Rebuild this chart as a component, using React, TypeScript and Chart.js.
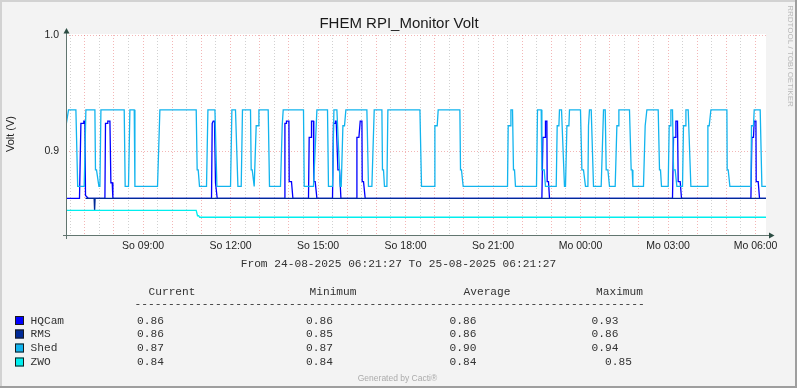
import { useEffect, useRef } from 'react';
import { Chart, registerables } from 'chart.js';

Chart.register(...registerables);

// ---- data (time = minutes since 24-08-2025 00:00) ----
const startMin = 381.45; // 06:21:27
const endMin = 1821.45; // next day 06:21:27

const seriesNames = ['HQCam', 'RMS', 'Shed', 'ZWO'];
const seriesColors = ['#0000FF', '#002A97', '#12B4EE', '#00EEEE'];

const hqcamT = [
  381.5, 409.2, 412.1, 417.5, 418.1, 420.3, 421.6, 427.1,
  461.5, 462.7, 466.8, 467.4, 471.8, 473.8, 476.5, 477.9,
  680.8, 682.2, 683.6, 684.3, 686.9, 689.0, 692.5,
  830.9, 831.8, 834.4, 835.0, 840.0, 840.6, 845.3, 848.2,
  880.3, 881.7, 885.9, 886.5, 890.6, 891.2, 894.1, 897.6,
  929.7, 931.7, 935.2, 935.8, 937.3, 940.8, 944.1, 947.0,
  978.4, 979.9, 984.0, 986.7, 990.2, 990.8, 993.5, 996.9,
  1360.4, 1362.5, 1367.2, 1367.8, 1370.7, 1371.3, 1374.0, 1376.1,
  1629.1, 1631.2, 1634.6, 1636.1, 1639.4, 1640.8, 1644.9, 1647.6,
  1790.4, 1792.4, 1795.7, 1797.2, 1800.7, 1801.3, 1805.4, 1808.1,
  1821.4,
];
const hqcamV = [
  0.8596, 0.8596, 0.924, 0.924, 0.926, 0.926, 0.862, 0.8596,
  0.8596, 0.924, 0.924, 0.926, 0.926, 0.873, 0.873, 0.8596,
  0.8596, 0.924, 0.924, 0.926, 0.926, 0.873, 0.8596,
  0.8596, 0.924, 0.924, 0.926, 0.926, 0.874, 0.874, 0.8596,
  0.8596, 0.912, 0.912, 0.926, 0.926, 0.874, 0.874, 0.8596,
  0.8596, 0.924, 0.924, 0.926, 0.926, 0.884, 0.884, 0.8596,
  0.8596, 0.912, 0.912, 0.926, 0.926, 0.874, 0.874, 0.8596,
  0.8596, 0.912, 0.912, 0.926, 0.926, 0.874, 0.874, 0.8596,
  0.8596, 0.912, 0.912, 0.926, 0.926, 0.874, 0.874, 0.8596,
  0.8596, 0.912, 0.912, 0.926, 0.926, 0.874, 0.874, 0.8596,
  0.8596,
];

const rmsT = [421.6, 439.3, 440.3, 441.3, 1821.4];
const rmsV = [0.8596, 0.8596, 0.849, 0.8596, 0.8596];

const shedT = [
  381.5, 386.6, 401.8, 405.5, 418.9, 422.4, 440.9, 442.1, 444.2, 449.1,
  451.2, 453.3, 501.2, 503.2, 510.0, 512.9, 521.8, 523.2, 569.7, 574.6,
  649.3, 651.3, 653.4, 656.1, 670.5, 673.4, 687.8, 691.9, 719.9, 722.7,
  730.1, 735.1, 741.9, 744.5, 761.0, 762.4, 764.5, 768.6, 772.7, 776.8,
  778.3, 797.4, 800.1, 822.7, 826.2, 828.3, 870.0, 871.5, 890.6, 897.6,
  919.4, 921.4, 929.7, 932.6, 938.7, 945.5, 947.6, 951.1, 954.4, 957.2,
  1000.4, 1003.7, 1010.7, 1015.5, 1031.3, 1032.5, 1034.6, 1036.6, 1041.6, 1043.6,
  1109.5, 1112.8, 1138.9, 1140.3, 1145.1, 1147.1, 1191.7, 1193.0, 1195.0, 1198.5,
  1289.7, 1291.1, 1295.2, 1296.7, 1300.0, 1302.0, 1304.1, 1306.1, 1349.3, 1351.4,
  1359.0, 1360.4, 1365.2, 1367.8, 1389.9, 1391.9, 1395.4, 1396.6, 1400.8, 1406.9,
  1409.0, 1411.9, 1416.0, 1417.2, 1439.8, 1442.7, 1446.0, 1450.1, 1455.1, 1456.3,
  1458.3, 1461.9, 1466.6, 1482.4, 1487.2, 1490.7, 1492.7, 1496.2, 1499.5, 1511.2,
  1514.7, 1517.4, 1518.8, 1540.6, 1544.1, 1546.2, 1547.6, 1569.4, 1572.9, 1576.4,
  1599.7, 1602.4, 1604.4, 1606.5, 1620.2, 1622.3, 1624.4, 1625.8, 1629.1, 1631.2,
  1634.6, 1638.1, 1649.7, 1651.7, 1655.2, 1656.7, 1661.4, 1666.9, 1701.1, 1701.9,
  1704.6, 1708.1, 1741.0, 1741.6, 1743.7, 1747.2, 1790.4, 1791.6, 1795.7, 1797.2,
  1809.5, 1813.0, 1821.4,
];
const shedV = [
  0.922, 0.9357, 0.9357, 0.8698, 0.8698, 0.9357, 0.9357, 0.884, 0.884, 0.8698,
  0.8698, 0.9357, 0.9357, 0.8698, 0.8698, 0.9357, 0.9357, 0.8698, 0.8698, 0.9357,
  0.9357, 0.884, 0.884, 0.8698, 0.8698, 0.9357, 0.9357, 0.8698, 0.8698, 0.9357,
  0.9357, 0.8698, 0.8698, 0.9357, 0.9357, 0.884, 0.884, 0.8698, 0.922, 0.922,
  0.9357, 0.9357, 0.8698, 0.8698, 0.922, 0.9357, 0.9357, 0.8698, 0.8698, 0.9357,
  0.9357, 0.8698, 0.8698, 0.9357, 0.9357, 0.8698, 0.8698, 0.922, 0.922, 0.9357,
  0.9357, 0.8698, 0.8698, 0.9357, 0.9357, 0.884, 0.884, 0.8698, 0.8698, 0.9357,
  0.9357, 0.8698, 0.8698, 0.922, 0.922, 0.9357, 0.9357, 0.884, 0.884, 0.8698,
  0.8698, 0.922, 0.922, 0.9357, 0.9357, 0.884, 0.884, 0.8698, 0.8698, 0.9357,
  0.9357, 0.884, 0.884, 0.8698, 0.8698, 0.922, 0.922, 0.9357, 0.9357, 0.8698,
  0.8698, 0.922, 0.922, 0.9357, 0.9357, 0.884, 0.884, 0.8698, 0.8698, 0.922,
  0.9357, 0.9357, 0.8698, 0.8698, 0.9357, 0.9357, 0.884, 0.884, 0.8698, 0.8698,
  0.922, 0.922, 0.9357, 0.9357, 0.884, 0.884, 0.8698, 0.8698, 0.922, 0.9357,
  0.9357, 0.884, 0.884, 0.8698, 0.8698, 0.922, 0.922, 0.9357, 0.9357, 0.884,
  0.884, 0.8698, 0.8698, 0.922, 0.922, 0.9357, 0.9357, 0.8698, 0.8698, 0.922,
  0.922, 0.9357, 0.9357, 0.884, 0.884, 0.8698, 0.8698, 0.922, 0.922, 0.9357,
  0.9357, 0.8698, 0.8698,
];

const zwoT = [381.5, 649.3, 652.0, 654.4, 656.5, 1821.4];
const zwoV = [0.8493, 0.8493, 0.8446, 0.8446, 0.8433, 0.8433];

const xTickMinutes = [540, 720, 900, 1080, 1260, 1440, 1620, 1800];
const xTickLabels = ['So 09:00', 'So 12:00', 'So 15:00', 'So 18:00', 'So 21:00', 'Mo 00:00', 'Mo 03:00', 'Mo 06:00'];
const yTickValues = [0.9, 1.0];
const yTickLabels = ['0.9', '1.0'];
const yMin = 0.8272;
const yMax = 1.0;

const legendHeaders = ['Current', 'Minimum', 'Average', 'Maximum'];
const legendCurrent = ['0.86', '0.86', '0.87', '0.84'];
const legendMinimum = ['0.86', '0.85', '0.87', '0.84'];
const legendAverage = ['0.86', '0.86', '0.90', '0.84'];
const legendMaximum = ['0.93', '0.86', '0.94', '0.85'];

const titleText = 'FHEM RPI_Monitor Volt';
const yAxisTitle = 'Volt (V)';
const rangeText = 'From 24-08-2025 06:21:27 To 25-08-2025 06:21:27';
const footerText = 'Generated by Cacti\u00AE';
const watermarkText = 'RRDTOOL / TOBI OETIKER';

// ---- styling ----
const W = 797;
const H = 388;
const SANS = 'Liberation Sans, Arial, sans-serif';
const MONO = 'Liberation Mono, Courier New, monospace';
const MAJOR = 'rgba(226,80,80,0.42)';
const MINOR = 'rgba(140,140,140,0.4)';

const gridMinutes: number[] = [];
for (let m = 390; m <= endMin; m += 30) gridMinutes.push(m);

const toXY = (t: number[], v: number[]) => t.map((x, i) => ({ x, y: v[i] }));

const decorPlugin = {
  id: 'rrdDecor',
  beforeDraw(chart: any) {
    const { ctx, chartArea: a } = chart;
    ctx.save();
    ctx.fillStyle = '#F3F3F3';
    ctx.fillRect(0, 0, W, H);
    ctx.fillStyle = '#D2D2D2';
    ctx.fillRect(0, 0, W, 2);
    ctx.fillRect(0, 0, 2, H);
    ctx.fillStyle = '#9E9E9E';
    ctx.fillRect(0, H - 2, W, 2);
    ctx.fillRect(W - 2, 0, 2, H);
    ctx.fillStyle = '#FFFFFF';
    ctx.fillRect(a.left, a.top - 1, a.right - a.left, a.bottom - a.top + 1);
    ctx.restore();
  },
  afterDraw(chart: any) {
    const { ctx, chartArea: a } = chart;
    ctx.save();
    // axes
    ctx.fillStyle = '#61756F';
    ctx.fillRect(a.left, a.top - 3, 1, a.bottom - a.top + 6);
    ctx.fillRect(a.left - 3, a.bottom - 1, a.right - a.left + 6, 1);
    ctx.fillStyle = '#2C4D43';
    ctx.beginPath();
    ctx.moveTo(a.left + 0.5, a.top - 7);
    ctx.lineTo(a.left - 2.5, a.top - 1.5);
    ctx.lineTo(a.left + 3.5, a.top - 1.5);
    ctx.closePath();
    ctx.fill();
    ctx.beginPath();
    ctx.moveTo(a.right + 8.5, a.bottom - 0.5);
    ctx.lineTo(a.right + 3, a.bottom - 3.5);
    ctx.lineTo(a.right + 3, a.bottom + 2.5);
    ctx.closePath();
    ctx.fill();

    // title
    ctx.fillStyle = '#1A1A1A';
    ctx.font = `15px ${SANS}`;
    ctx.textAlign = 'center';
    ctx.textBaseline = 'alphabetic';
    ctx.fillText(titleText, 399, 27.5);

    // y axis title
    ctx.fillStyle = '#222';
    ctx.font = `11px ${SANS}`;
    ctx.textAlign = 'center';
    ctx.textBaseline = 'middle';
    ctx.save();
    ctx.translate(10.5, 134);
    ctx.rotate(-Math.PI / 2);
    ctx.fillText(yAxisTitle, 0, 0);
    ctx.restore();

    // watermark
    ctx.save();
    ctx.fillStyle = '#B8B8B8';
    ctx.font = `8px ${SANS}`;
    ctx.translate(790, 56);
    ctx.rotate(Math.PI / 2);
    ctx.fillText(watermarkText, 0, 0);
    ctx.restore();

    // range line
    ctx.fillStyle = '#333';
    ctx.font = `11.2px ${MONO}`;
    ctx.textBaseline = 'alphabetic';
    ctx.textAlign = 'center';
    ctx.fillText(rangeText, 398.5, 266.5);

    // legend table
    ctx.textAlign = 'left';
    const headX = [148.5, 309.5, 463.5, 596];
    legendHeaders.forEach((h, i) => ctx.fillText(h, headX[i], 295));
    ctx.fillText('-'.repeat(76), 134.5, 306.5);
    const rowY = [323.5, 337, 351, 365];
    const colX = [137, 306, 449.5, 591.5];
    const cols = [legendCurrent, legendMinimum, legendAverage, legendMaximum];
    seriesNames.forEach((name, r) => {
      const y = rowY[r];
      ctx.fillStyle = seriesColors[r];
      ctx.fillRect(15, y - 7.5, 9, 9);
      ctx.strokeStyle = '#1A1A1A';
      ctx.lineWidth = 1;
      ctx.strokeRect(15.5, y - 7, 8, 8);
      ctx.fillStyle = '#333';
      ctx.fillText(name, 30.5, y);
      cols.forEach((col, c) => {
        const x = c === 3 && r === 3 ? 605 : colX[c];
        ctx.fillText(col[r], x, y);
      });
    });

    // footer
    ctx.fillStyle = '#ABABAB';
    ctx.font = `8.5px ${SANS}`;
    ctx.textAlign = 'center';
    ctx.fillText(footerText, 397.5, 381);
    ctx.restore();
  },
};

export default function App() {
  const ref = useRef<HTMLCanvasElement | null>(null);
  useEffect(() => {
    document.body.style.margin = '0';
    const canvas = ref.current;
    if (!canvas) return;
    const mk = (i: number, t: number[], v: number[]) => ({
      label: seriesNames[i],
      data: toXY(t, v),
      borderColor: seriesColors[i],
      backgroundColor: seriesColors[i],
      borderWidth: 1.3,
      pointRadius: 0,
      fill: false,
      tension: 0,
      order: 4 - i,
    });
    const chart = new Chart(canvas, {
      type: 'line',
      data: {
        datasets: [
          mk(0, hqcamT, hqcamV),
          mk(1, rmsT, rmsV),
          mk(2, shedT, shedV),
          mk(3, zwoT, zwoV),
        ] as any,
      },
      options: {
        animation: false,
        responsive: false,
        maintainAspectRatio: false,
        devicePixelRatio: 1,
        layout: { padding: { left: 0, right: 31, top: 35, bottom: 122 } },
        plugins: {
          legend: { display: false },
          tooltip: { enabled: false },
          title: { display: false },
        },
        scales: {
          x: {
            type: 'linear',
            min: startMin,
            max: endMin,
            afterBuildTicks: (s: any) => {
              s.ticks = gridMinutes.map((v) => ({ value: v }));
            },
            afterFit: (s: any) => {
              s.height = 30;
            },
            ticks: {
              autoSkip: false,
              maxRotation: 0,
              minRotation: 0,
              padding: 3.5,
              color: '#1E1E1E',
              font: { family: SANS, size: 10.5 },
              callback: (value: any) => {
                const i = xTickMinutes.indexOf(Number(value));
                return i >= 0 ? xTickLabels[i] : '';
              },
            },
            grid: {
              drawTicks: false,
              lineWidth: 1,
              color: (c: any) => (c.tick && c.tick.value % 60 === 0 ? MAJOR : MINOR),
            },
            border: { display: false, dash: [1, 2] },
          },
          y: {
            type: 'linear',
            min: yMin,
            max: yMax,
            afterBuildTicks: (s: any) => {
              s.ticks = yTickValues.map((v) => ({ value: v }));
            },
            afterFit: (s: any) => {
              s.width = 66;
            },
            ticks: {
              padding: 7,
              color: '#1E1E1E',
              font: { family: SANS, size: 10.5 },
              callback: (value: any) => {
                const i = yTickValues.indexOf(Number(value));
                return i >= 0 ? yTickLabels[i] : '';
              },
            },
            grid: { drawTicks: false, lineWidth: 1, color: MAJOR },
            border: { display: false, dash: [1, 2] },
          },
        },
      } as any,
      plugins: [decorPlugin],
    });
    return () => chart.destroy();
  }, []);
  return (
    <div style={{ width: W, height: H, position: 'relative' }}>
      <canvas ref={ref} width={W} height={H} style={{ display: 'block', width: W, height: H }} />
    </div>
  );
}
